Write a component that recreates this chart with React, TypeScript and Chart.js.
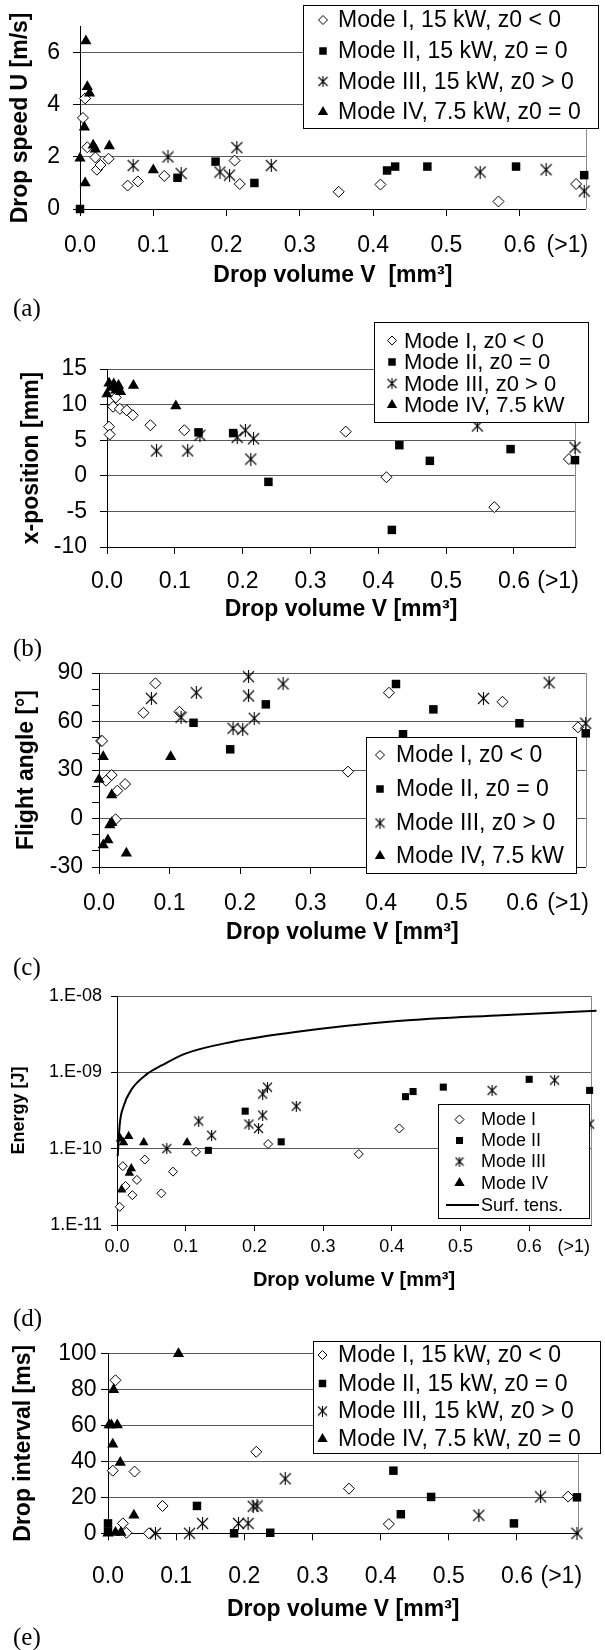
import React, { useEffect, useRef } from 'react';
import { Chart, registerables } from 'chart.js';

Chart.register(...registerables);

const FONT = "'Liberation Sans', Arial, Helvetica, sans-serif";
Chart.defaults.font.family = FONT;

// ---------- shared x axis ----------
const X_TICKS = [0, 0.1, 0.2, 0.3, 0.4, 0.5, 0.6, 0.665];
const X_TICK_LABELS = ['0.0', '0.1', '0.2', '0.3', '0.4', '0.5', '0.6', '(>1)'];

// ---------- (a) drop speed ----------
const SPEED_Y_TICKS = [0, 2, 4, 6];
const SPEED_MODE_I = [[0.004, 3.5], [0.007, 4.25], [0.01, 2.37], [0.021, 1.98], [0.023, 1.51], [0.028, 1.69], [0.039, 1.93], [0.065, 0.9], [0.079, 1.06], [0.115, 1.27], [0.211, 1.86], [0.218, 0.96], [0.353, 0.66], [0.41, 0.94], [0.571, 0.29], [0.677, 0.96]];
const SPEED_MODE_II = [[0, 0], [0.133, 1.2], [0.185, 1.82], [0.238, 1.0], [0.419, 1.48], [0.43, 1.63], [0.474, 1.63], [0.595, 1.63], [0.688, 1.3]];
const SPEED_MODE_III = [[0.0725, 1.67], [0.12, 2.0], [0.138, 1.36], [0.191, 1.42], [0.204, 1.3], [0.214, 2.36], [0.261, 1.67], [0.546, 1.42], [0.636, 1.51], [0.688, 0.69]];
const SPEED_MODE_IV = [[0, 1.95], [0.006, 3.14], [0.007, 1.0], [0.008, 6.45], [0.01, 4.7], [0.013, 4.45], [0.018, 2.45], [0.021, 2.3], [0.04, 2.42], [0.1, 1.5]];

// ---------- (b) x-position ----------
const XPOS_Y_TICKS = [-10, -5, 0, 5, 10, 15];
const XPOS_MODE_I = [[0.003, 6.9], [0.004, 5.8], [0.009, 9.7], [0.013, 11.0], [0.019, 9.4], [0.029, 9.2], [0.038, 8.5], [0.064, 7.1], [0.114, 6.4], [0.352, 6.2], [0.412, -0.2], [0.571, -4.4], [0.681, 2.35]];
const XPOS_MODE_II = [[0.135, 6.1], [0.186, 6.0], [0.238, -0.85], [0.42, -7.6], [0.431, 4.3], [0.476, 2.1], [0.595, 3.75], [0.69, 2.2]];
const XPOS_MODE_III = [[0.073, 3.5], [0.119, 3.5], [0.137, 5.7], [0.192, 5.4], [0.204, 6.4], [0.212, 2.35], [0.216, 5.2], [0.546, 7.0], [0.69, 4.0]];
const XPOS_MODE_IV = [[0, 11.5], [0.003, 13.0], [0.007, 12.4], [0.01, 12.9], [0.013, 12.0], [0.017, 12.7], [0.02, 11.8], [0.039, 12.7], [0.1015, 9.8]];

// ---------- (c) flight angle ----------
const ANGLE_Y_TICKS = [-30, -20, -10, 0, 10, 20, 30, 40, 50, 60, 70, 80, 90];
const ANGLE_Y_LABELS = ['-30', '', '', '0', '', '', '30', '', '', '60', '', '', '90'];
const ANGLE_MODE_I = [[0.003, 48], [0.0044, 48], [0.0099, 23.4], [0.018, 26.9], [0.0235, -0.5], [0.026, 17.2], [0.037, 21.3], [0.063, 65.4], [0.08, 83.6], [0.114, 66], [0.353, 29], [0.411, 77.8], [0.572, 72.2], [0.679, 56.4]];
const ANGLE_MODE_II = [[0.134, 59.2], [0.186, 42.8], [0.2365, 70.6], [0.421, 83.2], [0.431, 52.1], [0.474, 67.5], [0.596, 58.9], [0.69, 52.7]];
const ANGLE_MODE_III = [[0.0743, 74.3], [0.1164, 62.6], [0.138, 77.8], [0.19, 55.8], [0.2037, 55.2], [0.212, 87.7], [0.212, 75.8], [0.22, 62], [0.261, 83.2], [0.545, 74.3], [0.638, 84], [0.69, 58.9]];
const ANGLE_MODE_IV = [[0, 24.2], [0.006, 38.2], [0.006, -16.4], [0.0126, -13.3], [0.0153, -4], [0.018, -2.6], [0.018, 14.5], [0.0388, -21.5], [0.1016, 38.2]];

// ---------- (d) energy ----------
const ENERGY_Y_TICKS = [1e-11, 1e-10, 1e-9, 1e-8];
const ENERGY_Y_LABELS = ['1.E-11', '1.E-10', '1.E-09', '1.E-08'];
const ENERGY_MODE_I = [[0.004, 1.73e-11], [0.0084, 5.9e-11], [0.0124, 3.25e-11], [0.0224, 2.46e-11], [0.029, 3.9e-11], [0.0405, 7.2e-11], [0.0646, 2.6e-11], [0.0815, 5.0e-11], [0.115, 9.1e-11], [0.22, 1.15e-10], [0.352, 8.5e-11], [0.411, 1.84e-10], [0.678, 3.0e-10]];
const ENERGY_MODE_II = [[0.133, 9.5e-11], [0.1866, 3.1e-10], [0.239, 1.23e-10], [0.42, 4.8e-10], [0.431, 5.6e-10], [0.475, 6.4e-10], [0.6, 8.1e-10], [0.688, 5.8e-10]];
const ENERGY_MODE_III = [[0.0725, 1.0e-10], [0.119, 2.3e-10], [0.1377, 1.5e-10], [0.192, 2.1e-10], [0.206, 1.84e-10], [0.212, 2.75e-10], [0.212, 5.2e-10], [0.219, 6.4e-10], [0.261, 3.6e-10], [0.546, 5.8e-10], [0.637, 7.9e-10], [0.688, 2.1e-10]];
const ENERGY_MODE_IV = [[0.005, 1.35e-10], [0.0095, 1.2e-10], [0.017, 1.45e-10], [0.039, 1.2e-10], [0.102, 1.2e-10], [0.0067, 2.9e-11], [0.018, 4.8e-11], [0.0208, 5.5e-11]];
const ENERGY_SURF_TENSION = [[0.001, 8e-11], [0.004, 2.1e-10], [0.0096, 3.6e-10], [0.0208, 5.9e-10], [0.043, 9.4e-10], [0.0656, 1.24e-9], [0.0995, 1.76e-9], [0.167, 2.5e-9], [0.2625, 3.4e-9], [0.4086, 4.7e-9], [0.56, 5.6e-9], [0.698, 6.4e-9]];

// ---------- (e) drop interval ----------
const INTERVAL_Y_TICKS = [0, 20, 40, 60, 80, 100];
const INTERVAL_MODE_I = [[0.007, 34.8], [0.011, 85], [0.0218, 5.5], [0.027, 0.3], [0.039, 34.3], [0.06, 0], [0.08, 15.2], [0.2175, 45.3], [0.3535, 24.8], [0.412, 5.1], [0.675, 20.4]];
const INTERVAL_MODE_II = [[0, 5.5], [0, 1], [0.1305, 15.2], [0.185, 0], [0.238, 0.3], [0.4187, 34.8], [0.4296, 10.6], [0.474, 20.2], [0.5955, 5.5], [0.688, 20]];
const INTERVAL_MODE_III = [[0.0696, 0], [0.1196, 0], [0.1387, 5.5], [0.1914, 5.5], [0.2055, 5.5], [0.213, 15], [0.2186, 15.2], [0.26, 30.3], [0.544, 10], [0.6346, 20.3], [0.688, 0]];
const INTERVAL_MODE_IV = [[0, 0], [0.0017, 60.2], [0.005, 60.2], [0.0136, 60.2], [0.007, 49.5], [0.0082, 79.8], [0.018, 39.4], [0.011, 0.5], [0.019, 0.5], [0.038, 10], [0.1034, 99.7]];

// ---------- legend texts ----------
const LEGEND_LONG = ['Mode I, 15 kW, z0 < 0', 'Mode II, 15 kW, z0 = 0', 'Mode III, 15 kW, z0 > 0', 'Mode IV, 7.5 kW, z0 = 0'];
const LEGEND_SHORT = ['Mode I, z0 < 0', 'Mode II, z0 = 0', 'Mode III, z0 > 0', 'Mode IV, 7.5 kW'];
const LEGEND_ENERGY = ['Mode I', 'Mode II', 'Mode III', 'Mode IV', 'Surf. tens.'];
const KINDS = ['diamond', 'square', 'star', 'triangle'];

const PANEL_LABELS = [
  { text: '(a)', cy: 308 },
  { text: '(b)', cy: 648 },
  { text: '(c)', cy: 967 },
  { text: '(d)', cy: 1318 },
  { text: '(e)', cy: 1637 },
];

const BIG = { diamond: 5.5, square: 6, triangle: 6.5, star: 13 };
const SMALL = { diamond: 4.5, square: 5, triangle: 5.5, star: 11 };

const GRID_COLOR = '#595959';

const SPECS: any[] = [
  {
    top: 0, bottom: 296,
    plot: { l: 80, t: 17, r: 586, b: 209 },
    yType: 'linear', yMin: 0, yMax: 7,
    yTicks: SPEED_Y_TICKS, yLabels: SPEED_Y_TICKS.map(String), yGrid: () => true,
    yTitle: 'Drop speed U [m/s]', yTitleCx: 21, yTitleSize: 23,
    yTickSize: 23, yTickLen: 7, yLabelRight: 60,
    xTickSize: 23, xTickLen: 7, xLabelCy: 246,
    xTitle: 'Drop volume V  [mm³]', xTitleSize: 23, xTitleCy: 276,
    series: [SPEED_MODE_I, SPEED_MODE_II, SPEED_MODE_III, SPEED_MODE_IV],
    mk: BIG,
    legend: { l: 303, t: 5, r: 598, b: 128, rows: [20, 51, 81.5, 112], mx: 323, tx: 338, size: 23, texts: LEGEND_LONG },
  },
  {
    top: 315, bottom: 630,
    plot: { l: 107, t: 369, r: 575, b: 547 },
    yType: 'linear', yMin: -10, yMax: 15,
    yTicks: XPOS_Y_TICKS, yLabels: XPOS_Y_TICKS.map(String), yGrid: () => true,
    yTitle: 'x-position [mm]', yTitleCx: 32, yTitleSize: 23,
    yTickSize: 23, yTickLen: 7, yLabelRight: 87,
    xTickSize: 23, xTickLen: 7, xLabelCy: 581.7,
    xTitle: 'Drop volume V [mm³]', xTitleSize: 23, xTitleCy: 610,
    series: [XPOS_MODE_I, XPOS_MODE_II, XPOS_MODE_III, XPOS_MODE_IV],
    mk: BIG,
    legend: { l: 374, t: 322, r: 588, b: 422, rows: [340.5, 362, 383.5, 405], mx: 392, tx: 404, size: 22, texts: LEGEND_SHORT },
  },
  {
    top: 648, bottom: 953,
    plot: { l: 99, t: 673, r: 588, b: 867 },
    yType: 'linear', yMin: -30, yMax: 90,
    yTicks: ANGLE_Y_TICKS, yLabels: ANGLE_Y_LABELS, yGrid: (v: number) => v % 30 === 0,
    yTitle: 'Flight angle [°]', yTitleCx: 27, yTitleSize: 23,
    yTickSize: 23, yTickLen: 7, yLabelRight: 83,
    xTickSize: 23, xTickLen: 7, xLabelCy: 903.3,
    xTitle: 'Drop volume V [mm³]', xTitleSize: 23, xTitleCy: 933,
    series: [ANGLE_MODE_I, ANGLE_MODE_II, ANGLE_MODE_III, ANGLE_MODE_IV],
    mk: BIG,
    legend: { l: 366, t: 737, r: 576, b: 873, rows: [755, 789, 823, 856], mx: 380, tx: 396, size: 23, texts: LEGEND_SHORT },
  },
  {
    top: 975, bottom: 1300,
    plot: { l: 117, t: 996, r: 591, b: 1225 },
    yType: 'logarithmic', yMin: 1e-11, yMax: 1e-8,
    yTicks: ENERGY_Y_TICKS, yLabels: ENERGY_Y_LABELS, yGrid: () => true,
    yTitle: 'Energy [J]', yTitleCx: 19, yTitleSize: 18,
    yTickSize: 18, yTickLen: 6, yLabelRight: 102,
    xTickSize: 18, xTickLen: 6, xLabelCy: 1246.7,
    xTitle: 'Drop volume V [mm³]', xTitleSize: 20, xTitleCy: 1280,
    series: [ENERGY_MODE_I, ENERGY_MODE_II, ENERGY_MODE_III, ENERGY_MODE_IV],
    line: ENERGY_SURF_TENSION,
    mk: SMALL,
    legend: { l: 438, t: 1104, r: 589, b: 1218, rows: [1119.5, 1140.5, 1161.5, 1183, 1205], mx: 459.5, tx: 481, size: 18, texts: LEGEND_ENERGY },
  },
  {
    top: 1335, bottom: 1630,
    plot: { l: 108, t: 1352, r: 596, b: 1533.3 },
    yType: 'linear', yMin: 0, yMax: 100,
    yTicks: INTERVAL_Y_TICKS, yLabels: INTERVAL_Y_TICKS.map(String), yGrid: () => true,
    yTitle: 'Drop interval [ms]', yTitleCx: 24, yTitleSize: 23,
    yTickSize: 23, yTickLen: 7, yLabelRight: 96.5,
    xTickSize: 23, xTickLen: 7, xLabelCy: 1576.7,
    xTitle: 'Drop volume V [mm³]', xTitleSize: 23, xTitleCy: 1610,
    series: [INTERVAL_MODE_I, INTERVAL_MODE_II, INTERVAL_MODE_III, INTERVAL_MODE_IV],
    mk: BIG,
    legend: { l: 313, t: 1341, r: 600, b: 1453, rows: [1355, 1383.5, 1411, 1439], mx: 322.5, tx: 338, size: 23, texts: LEGEND_LONG },
  },
];

const X_MAX = 0.69;

function makeStar(size: number) {
  const c = document.createElement('canvas');
  c.width = size;
  c.height = size;
  const g = c.getContext('2d')!;
  g.strokeStyle = '#000';
  g.lineWidth = 1.1;
  const h = size / 2;
  const d = h - 1;
  g.beginPath();
  g.moveTo(h - d, h - d); g.lineTo(h + d, h + d);
  g.moveTo(h + d, h - d); g.lineTo(h - d, h + d);
  g.moveTo(h, 0); g.lineTo(h, size);
  g.stroke();
  return c;
}

function drawMarker(g: CanvasRenderingContext2D, kind: string, x: number, y: number, star: HTMLCanvasElement, small: boolean) {
  g.save();
  g.lineWidth = 1;
  g.strokeStyle = '#000';
  g.fillStyle = '#000';
  if (kind === 'diamond') {
    const r = 4.5;
    g.beginPath();
    g.moveTo(x, y - r); g.lineTo(x + r, y); g.lineTo(x, y + r); g.lineTo(x - r, y);
    g.closePath();
    g.fillStyle = '#fff';
    g.fill();
    g.stroke();
  } else if (kind === 'square') {
    const s = small ? 7 : 7.5;
    g.fillRect(x - s / 2, y - s / 2, s, s);
  } else if (kind === 'triangle') {
    const r = 6;
    g.beginPath();
    g.moveTo(x, y - r);
    g.lineTo(x + r * 0.866, y + r / 2);
    g.lineTo(x - r * 0.866, y + r / 2);
    g.closePath();
    g.fill();
  } else if (kind === 'star') {
    g.drawImage(star, x - star.width / 2, y - star.height / 2);
  } else if (kind === 'line') {
    g.lineWidth = 2;
    g.beginPath();
    g.moveTo(x - 13.5, y);
    g.lineTo(x + 19.5, y);
    g.stroke();
  }
  g.restore();
}

function buildChart(canvas: HTMLCanvasElement, s: any) {
  const H = s.bottom - s.top;
  const plotBottomC = s.plot.b - s.top;
  const xAxisH = H - plotBottomC;
  const star = makeStar(s.mk.star);
  const legendStar = makeStar(s.mk === SMALL ? 10 : 11);
  const xTickLh = s.xTickSize * 1.2;
  const xTitleLh = s.xTitleSize * 1.2;
  const yTitleLh = s.yTitleSize * 1.2;

  const datasets: any[] = s.series.map((data: number[][], i: number) => {
    const kind = KINDS[i];
    const ds: any = {
      label: s.legend.texts[i],
      data: data.map(([x, y]) => ({ x, y })),
      order: 4 - i,
      clip: false,
      showLine: false,
      pointBorderColor: '#000',
      pointBorderWidth: 1,
    };
    if (kind === 'diamond') {
      ds.pointStyle = 'rectRot';
      ds.pointRadius = s.mk.diamond;
      ds.pointBackgroundColor = '#fff';
    } else if (kind === 'square') {
      ds.pointStyle = 'rect';
      ds.pointRadius = s.mk.square;
      ds.pointBackgroundColor = '#000';
      ds.pointBorderWidth = 0;
    } else if (kind === 'star') {
      ds.pointStyle = star;
      ds.pointRadius = s.mk.star / 2;
    } else {
      ds.pointStyle = 'triangle';
      ds.pointRadius = s.mk.triangle;
      ds.pointBackgroundColor = '#000';
      ds.pointBorderWidth = 0;
    }
    return ds;
  });
  if (s.line) {
    datasets.push({
      label: 'Surf. tens.',
      data: s.line.map(([x, y]: number[]) => ({ x, y })),
      showLine: true,
      pointRadius: 0,
      borderColor: '#000',
      borderWidth: 2,
      cubicInterpolationMode: 'monotone',
      clip: false,
      order: 0,
    });
  }

  const framePlugin = {
    id: 'rightFrame',
    beforeDatasetsDraw(chart: any) {
      const a = chart.chartArea;
      const g = chart.ctx;
      g.save();
      g.strokeStyle = '#8a8a8a';
      g.lineWidth = 1;
      g.beginPath();
      const x = Math.round(a.right) + 0.5;
      g.moveTo(x, a.top);
      g.lineTo(x, a.bottom);
      g.stroke();
      g.restore();
    },
  };

  const legendPlugin = {
    id: 'boxLegend',
    afterDraw(chart: any) {
      const L = s.legend;
      const g = chart.ctx;
      g.save();
      const x = Math.round(L.l) + 0.5;
      const y = Math.round(L.t - s.top) + 0.5;
      const w = Math.round(L.r - L.l);
      const h = Math.round(L.b - L.t);
      g.fillStyle = '#fff';
      g.fillRect(x, y, w, h);
      g.strokeStyle = '#000';
      g.lineWidth = 1;
      g.strokeRect(x, y, w, h);
      g.font = `${L.size}px ${FONT}`;
      g.textBaseline = 'middle';
      g.textAlign = 'left';
      L.texts.forEach((t: string, i: number) => {
        const cy = L.rows[i] - s.top;
        const kind = i < 4 ? KINDS[i] : 'line';
        drawMarker(g, kind, L.mx, cy, legendStar, s.mk === SMALL);
        g.fillStyle = '#000';
        g.fillText(t, L.tx, cy + 1);
      });
      g.restore();
    },
  };

  return new Chart(canvas, {
    type: 'scatter',
    data: { datasets },
    plugins: [framePlugin, legendPlugin],
    options: {
      responsive: false,
      maintainAspectRatio: false,
      animation: false,
      devicePixelRatio: 1,
      events: [],
      layout: { padding: { left: 0, top: s.plot.t - s.top, right: 605 - s.plot.r, bottom: 0 } },
      plugins: { legend: { display: false }, tooltip: { enabled: false }, title: { display: false } },
      scales: {
        x: {
          type: 'linear',
          position: 'bottom',
          min: 0,
          max: X_MAX,
          afterBuildTicks: (sc: any) => { sc.ticks = X_TICKS.map((v) => ({ value: v })); },
          afterFit: (sc: any) => { sc.height = xAxisH; },
          ticks: {
            autoSkip: false,
            maxRotation: 0,
            minRotation: 0,
            color: '#000',
            font: { size: s.xTickSize },
            padding: s.xLabelCy - s.plot.b - s.xTickLen - xTickLh / 2,
            callback: (_v: any, i: number) => X_TICK_LABELS[i],
          },
          grid: {
            drawOnChartArea: false,
            drawTicks: true,
            tickLength: s.xTickLen,
            tickColor: (ctx: any) => (ctx.index === X_TICKS.length - 1 ? 'rgba(0,0,0,0)' : '#000'),
          },
          border: { display: true, color: '#000', width: 1 },
          title: {
            display: true,
            text: s.xTitle,
            color: '#000',
            font: { size: s.xTitleSize, weight: 'bold' },
            padding: { top: 0, bottom: s.bottom - s.xTitleCy - xTitleLh / 2 },
          },
        },
        y: {
          type: s.yType,
          position: 'left',
          min: s.yMin,
          max: s.yMax,
          afterBuildTicks: (sc: any) => { sc.ticks = s.yTicks.map((v: number) => ({ value: v })); },
          afterFit: (sc: any) => { sc.width = s.plot.l; },
          ticks: {
            autoSkip: false,
            color: '#000',
            font: { size: s.yTickSize },
            padding: s.plot.l - s.yTickLen - s.yLabelRight,
            callback: (_v: any, i: number) => s.yLabels[i],
          },
          grid: {
            drawTicks: true,
            tickLength: s.yTickLen,
            tickColor: '#000',
            lineWidth: 1,
            color: (ctx: any) => (ctx.tick && s.yGrid(ctx.tick.value) ? GRID_COLOR : 'rgba(0,0,0,0)'),
          },
          border: { display: true, color: '#000', width: 1 },
          title: {
            display: true,
            text: s.yTitle,
            color: '#000',
            font: { size: s.yTitleSize, weight: 'bold' },
            padding: { top: s.yTitleCx - yTitleLh / 2, bottom: 0 },
          },
        },
      },
    } as any,
  });
}

function Panel({ spec }: { spec: any }) {
  const ref = useRef<HTMLCanvasElement>(null);
  useEffect(() => {
    const chart = buildChart(ref.current!, spec);
    return () => chart.destroy();
  }, [spec]);
  const H = spec.bottom - spec.top;
  return (
    <canvas
      ref={ref}
      width={605}
      height={H}
      style={{ position: 'absolute', left: 0, top: spec.top, width: 605, height: H, display: 'block' }}
    />
  );
}

export default function App() {
  return (
    <div style={{ position: 'absolute', left: 0, top: 0, width: 605, height: 1650, background: '#fff', overflow: 'hidden' }}>
      {SPECS.map((s, i) => (
        <Panel key={i} spec={s} />
      ))}
      {PANEL_LABELS.map((p, i) => (
        <div
          key={'l' + i}
          style={{
            position: 'absolute',
            left: 13,
            top: p.cy - 14,
            fontFamily: "'Liberation Serif', 'Times New Roman', serif",
            fontSize: 25,
            lineHeight: '28px',
            color: '#000',
          }}
        >
          {p.text}
        </div>
      ))}
    </div>
  );
}
